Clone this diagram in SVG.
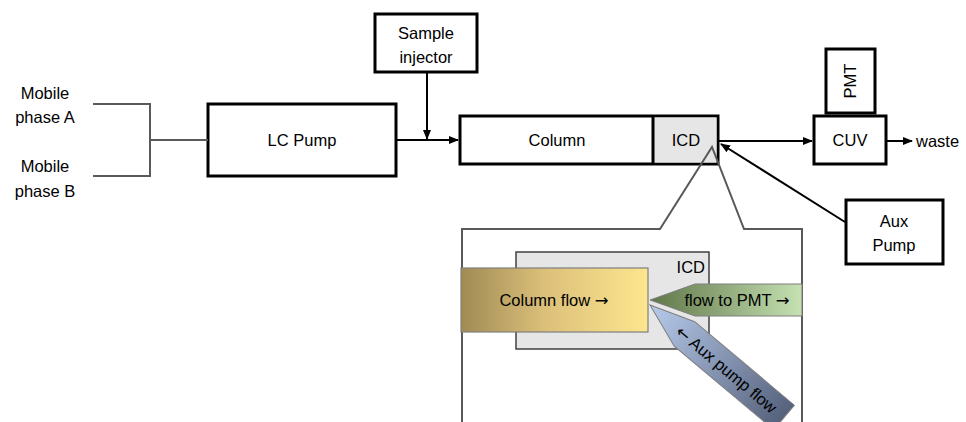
<svg xmlns="http://www.w3.org/2000/svg" width="966" height="422" viewBox="0 0 966 422">
<style>
text{font-family:"Liberation Sans",Arial,sans-serif;font-size:16.5px;fill:#000}
.ar{font-family:"DejaVu Sans",sans-serif}
.box{fill:#fff;stroke:#000;stroke-width:3}
.con{fill:none;stroke:#000;stroke-width:2}
.gray{fill:none;stroke:#595959;stroke-width:2}
</style>
<defs>
<marker id="ah" viewBox="0 0 10 10" refX="9" refY="5" markerWidth="5" markerHeight="5" orient="auto-start-reverse" markerUnits="strokeWidth"><path d="M0,1 L10,5 L0,9 z" fill="#000"/></marker>
<linearGradient id="gCol" x1="0" y1="0" x2="1" y2="0"><stop offset="0" stop-color="#a08b55"/><stop offset="0.45" stop-color="#dcc07a"/><stop offset="1" stop-color="#fde68e"/></linearGradient>
<linearGradient id="gPmt" x1="0" y1="0" x2="1" y2="0"><stop offset="0" stop-color="#5f7548"/><stop offset="1" stop-color="#c6e2b2"/></linearGradient>
<linearGradient id="gAux" x1="0" y1="0" x2="1" y2="0"><stop offset="0" stop-color="#b8cbec"/><stop offset="1" stop-color="#56627c"/></linearGradient>
</defs>

<g id="mobileA"><text x="45" y="99" text-anchor="middle">Mobile</text><text x="45" y="123" text-anchor="middle">phase A</text></g>
<g id="mobileB"><text x="45" y="172" text-anchor="middle">Mobile</text><text x="45" y="197" text-anchor="middle">phase B</text></g>

<g id="lcpump"><rect class="box" x="208" y="104" width="188" height="72"/><text x="302" y="146" text-anchor="middle">LC Pump</text></g>
<g id="injector"><rect class="box" x="375" y="14" width="102" height="58"/><text x="426" y="39" text-anchor="middle">Sample</text><text x="426" y="63" text-anchor="middle">injector</text></g>
<g id="column"><rect class="box" x="460" y="116" width="258" height="48"/><rect x="653" y="117.5" width="63.5" height="45" fill="#e6e6e6"/><line x1="653" y1="116" x2="653" y2="164" stroke="#000" stroke-width="3"/><text x="557" y="146" text-anchor="middle">Column</text><text x="686" y="146" text-anchor="middle">ICD</text></g>
<g id="cuv"><rect class="box" x="814" y="116" width="72" height="48"/><text x="850" y="146" text-anchor="middle">CUV</text></g>
<g id="pmt"><rect class="box" x="826" y="49" width="49" height="64"/><text transform="translate(856,81) rotate(-90)" text-anchor="middle">PMT</text></g>
<g id="waste"><text x="916" y="147">waste</text></g>
<g id="auxpump"><rect class="box" x="846" y="200" width="97" height="64"/><text x="894" y="227" text-anchor="middle">Aux</text><text x="894" y="251" text-anchor="middle">Pump</text></g>

<g id="connectors">
<polyline class="gray" points="93,104 150,104 150,176 93,176"/>
<line class="gray" x1="150" y1="140" x2="208" y2="140"/>
<line class="con" x1="396" y1="140" x2="458" y2="140" marker-end="url(#ah)"/>
<line class="con" x1="427" y1="72" x2="427" y2="139" marker-end="url(#ah)"/>
<line class="con" x1="718" y1="141" x2="812" y2="141" marker-end="url(#ah)"/>
<line class="con" x1="886" y1="141" x2="912" y2="141" marker-end="url(#ah)"/>
<line class="con" x1="845" y1="222" x2="721" y2="144" marker-end="url(#ah)"/>
</g>

<g id="callout">
<polyline class="gray" points="462,430 462,229 660,229 712,147 744,229 802,229 802,430"/>
</g>

<g id="detail">
<rect x="516" y="252" width="193" height="97" fill="#e6e6e6" stroke="#404040" stroke-width="1.5"/>
<text x="705" y="273" text-anchor="end">ICD</text>
<rect x="461" y="268" width="187" height="64" fill="url(#gCol)" stroke="#7f7f7f" stroke-width="1.2"/>
<text x="554" y="306" text-anchor="middle">Column flow <tspan class="ar">→</tspan></text>
<polygon points="650,300 695,284 802,284 802,316 695,316" fill="url(#gPmt)" stroke="#7f7f7f" stroke-width="1"/>
<text x="737" y="306" text-anchor="middle">flow to PMT <tspan class="ar">→</tspan></text>
<g transform="translate(650,305) rotate(40)">
<polygon points="0,0 45,-16 175,-16 175,16 45,16" fill="url(#gAux)" stroke="#7f7f7f" stroke-width="1"/>
<text x="100" y="6" text-anchor="middle"><tspan class="ar">←</tspan> Aux pump flow</text>
</g>
</g>
</svg>
